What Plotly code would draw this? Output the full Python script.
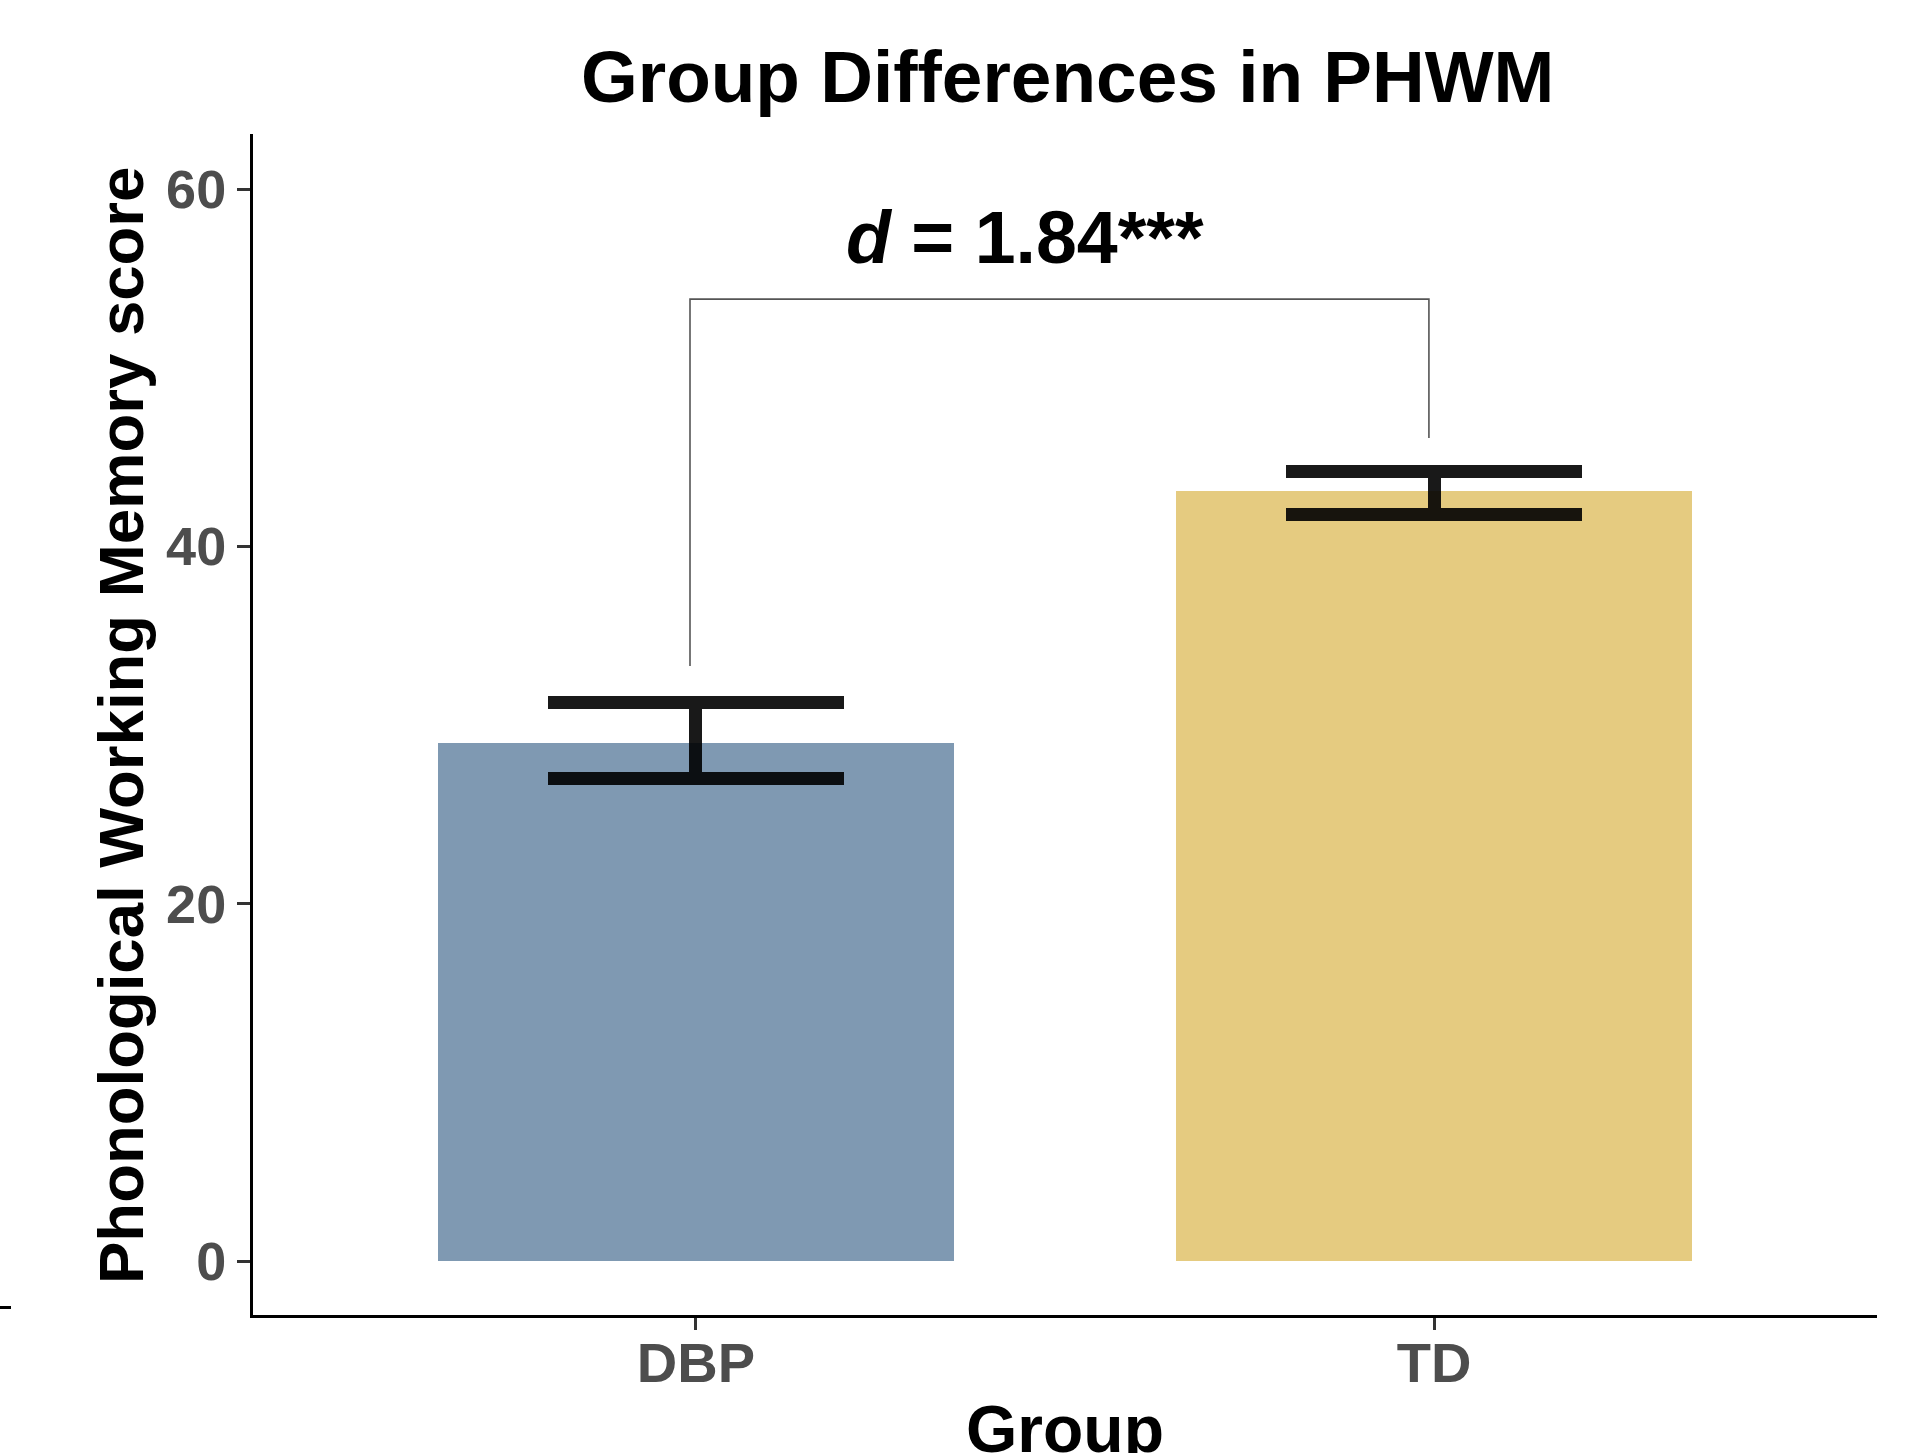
import plotly.graph_objects as go

# ---- data ----
groups = ["DBP", "TD"]
group_pos = [0, 1]
means = [29.02, 43.08]
ci_upper = [31.24, 44.18]
ci_lower = [26.98, 41.78]
bar_colors = ["#7F99B2", "#E5CB80"]
y_ticks = [0, 20, 40, 60]
bracket_y = [33.3, 53.84, 53.84, 46.07]
effect_label = "<b><i>d</i> = 1.84***</b>"
title_text = "<b>Group Differences in PHWM</b>"
x_title = "<b>Group</b>"
y_title = "<b>Phonological Working Memory score</b>"

W, H = 1909, 1453
L, R, T, B = 253, 32, 134, 138
pw, ph = W - L - R, H - T - B

FONT = "Liberation Sans, Arial, sans-serif"

fig = go.Figure()
fig.add_trace(go.Bar(
    x=group_pos, y=means, width=0.7,
    marker=dict(color=bar_colors, line=dict(width=0)),
    error_y=dict(type="data", symmetric=False,
                 array=[u - m for u, m in zip(ci_upper, means)],
                 arrayminus=[m - l for m, l in zip(means, ci_lower)],
                 thickness=13, width=148, color="rgba(0,0,0,0.9)"),
    showlegend=False, hoverinfo="skip",
))

# significance bracket
bx = [group_pos[0] - 0.008, group_pos[0] - 0.008, group_pos[1] - 0.007, group_pos[1] - 0.007]
fig.add_trace(go.Scatter(x=bx, y=bracket_y, mode="lines",
                         line=dict(color="#555555", width=1.6),
                         showlegend=False, hoverinfo="skip"))

fig.add_annotation(x=0.446, y=57.27, xref="x", yref="y", text=effect_label,
                   showarrow=False, xanchor="center", yanchor="middle",
                   font=dict(family=FONT, size=73.5, color="black"))

# title
fig.add_annotation(x=(1067 - L) / pw, y=1 + (T - 77) / ph, xref="paper", yref="paper",
                   text=title_text, showarrow=False, xanchor="center", yanchor="middle",
                   font=dict(family=FONT, size=73, color="black"))
# x title
fig.add_annotation(x=(1065 - L) / pw, y=-(1390 - (H - B)) / ph, xref="paper", yref="paper",
                   text=x_title, showarrow=False, xanchor="center", yanchor="top",
                   font=dict(family=FONT, size=66, color="black"))
# y title
fig.add_annotation(x=(121 - L) / pw, y=((H - B) - 726) / ph, xref="paper", yref="paper",
                   text=y_title, showarrow=False, xanchor="center", yanchor="middle",
                   textangle=-90,
                   font=dict(family=FONT, size=63.5, color="black"))

# stray dash at far left
fig.add_shape(type="line", xref="paper", yref="paper",
              x0=-L / pw, x1=(11 - L) / pw,
              y0=((H - B) - 1307.5) / ph, y1=((H - B) - 1307.5) / ph,
              line=dict(color="black", width=3))

fig.update_layout(
    width=W, height=H,
    margin=dict(l=L, r=R, t=T, b=B, pad=0),
    paper_bgcolor="white", plot_bgcolor="white",
    bargap=0,
)
fig.update_xaxes(range=[-0.6, 1.6], tickvals=group_pos, ticktext=groups,
                 showline=True, linecolor="black", linewidth=3,
                 ticks="outside", ticklen=12, tickwidth=3, tickcolor="#333333",
                 ticklabelstandoff=-15,
                 tickfont=dict(family=FONT, size=56, color="#4D4D4D", weight="bold"),
                 showgrid=False, zeroline=False, fixedrange=True)
fig.update_yaxes(range=[-3.02, 63.08], tickvals=y_ticks,
                 showline=True, linecolor="black", linewidth=3,
                 ticks="outside", ticklen=13, tickwidth=3, tickcolor="#333333",
                 tickfont=dict(family=FONT, size=54, color="#4D4D4D", weight="bold"),
                 showgrid=False, zeroline=False, fixedrange=True)

fig.write_html("out.html")
